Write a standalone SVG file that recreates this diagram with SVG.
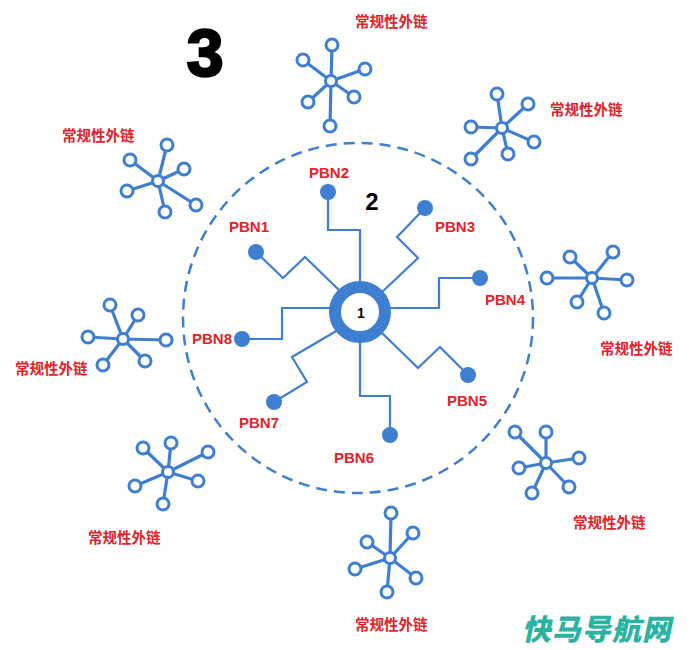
<svg xmlns="http://www.w3.org/2000/svg" width="700" height="650" viewBox="0 0 700 650">
<style>
.bg{fill:#ffffff}
.dash{fill:none;stroke:#3f7fd1;stroke-width:2.5;stroke-dasharray:11 7}
.wire{fill:none;stroke:#3f7fd1;stroke-width:2.2;stroke-linejoin:miter}
.dot{fill:#3f7fd1}
.ring{fill:#ffffff;stroke:#3f7fd1;stroke-width:12}
.spoke{stroke:#3f7fd1;stroke-width:3.2;stroke-linecap:round}
.hub{fill:#ffffff;stroke:#3f7fd1;stroke-width:3}
.lbl{font-family:"Liberation Sans","Noto Sans CJK SC",sans-serif;font-weight:bold;fill:#e3222a;font-size:15px}
.cn{font-family:"Noto Sans CJK SC",sans-serif;font-weight:bold;fill:#e3222a;font-size:14.5px}
.num{font-family:"Liberation Sans",sans-serif;font-weight:bold;fill:#000000}
.wm{font-family:"Noto Sans CJK SC",sans-serif;font-weight:900;fill:#2ab3a3;font-size:29px}
</style>
<rect class="bg" x="0" y="0" width="700" height="650"/>
<text class="num" x="205" y="76" font-size="66" text-anchor="middle" stroke="#000000" stroke-width="2.5">3</text>
<g id="boundary"><circle class="dash" cx="358" cy="318" r="175"/></g>
<text class="num" x="372" y="210" font-size="24" text-anchor="middle">2</text>

<g id="connectors">
<path class="wire" d="M328,192 V230 H360 V285"/>
<path class="wire" d="M425,208 L397,237 L418,258 L380,294"/>
<path class="wire" d="M480,278 H439 V308 H385"/>
<path class="wire" d="M468,375 L440,347 L418,368 L382,333"/>
<path class="wire" d="M390,435 V396 H360 V340"/>
<path class="wire" d="M274,402 L307,382 L292,357 L338,330"/>
<path class="wire" d="M242,339 H282 V308 H335"/>
<path class="wire" d="M256,252 L283,278 L305,257 L340,291"/>
</g>

<g id="core"><circle class="ring" cx="360" cy="312" r="25"/><text class="num" x="361" y="318" font-size="14" text-anchor="middle">1</text></g>

<g id="pbn1"><circle class="dot" cx="256" cy="252" r="8"/><text class="lbl" x="249" y="232" text-anchor="middle">PBN1</text></g>
<g id="pbn2"><circle class="dot" cx="328" cy="192" r="8"/><text class="lbl" x="329" y="178" text-anchor="middle">PBN2</text></g>
<g id="pbn3"><circle class="dot" cx="425" cy="208" r="8"/><text class="lbl" x="455" y="232" text-anchor="middle">PBN3</text></g>
<g id="pbn4"><circle class="dot" cx="480" cy="278" r="8"/><text class="lbl" x="505" y="305" text-anchor="middle">PBN4</text></g>
<g id="pbn5"><circle class="dot" cx="468" cy="375" r="8"/><text class="lbl" x="467" y="406" text-anchor="middle">PBN5</text></g>
<g id="pbn6"><circle class="dot" cx="390" cy="435" r="8"/><text class="lbl" x="354" y="463" text-anchor="middle">PBN6</text></g>
<g id="pbn7"><circle class="dot" cx="274" cy="402" r="8"/><text class="lbl" x="259" y="428" text-anchor="middle">PBN7</text></g>
<g id="pbn8"><circle class="dot" cx="242" cy="339" r="8"/><text class="lbl" x="212" y="344" text-anchor="middle">PBN8</text></g>

<g id="ext-top">
<path class="spoke" d="M331,81 L332,45 M331,81 L303,60 M331,81 L365,69 M331,81 L354,97 M331,81 L308,102 M331,81 L330,126"/>
<circle class="hub" cx="331" cy="81" r="5.5"/>
<circle class="hub" cx="332" cy="45" r="6"/><circle class="hub" cx="303" cy="60" r="6"/><circle class="hub" cx="365" cy="69" r="6"/><circle class="hub" cx="354" cy="97" r="6"/><circle class="hub" cx="308" cy="102" r="6"/><circle class="hub" cx="330" cy="126" r="6"/>
<text class="cn" x="355" y="27">常规性外链</text>
</g>
<g id="ext-upper-right">
<path class="spoke" d="M502,128 L497,94 M502,128 L528,104 M502,128 L471,127 M502,128 L534,142 M502,128 L508,154 M502,128 L471,159"/>
<circle class="hub" cx="502" cy="128" r="5.5"/>
<circle class="hub" cx="497" cy="94" r="6"/><circle class="hub" cx="528" cy="104" r="6"/><circle class="hub" cx="471" cy="127" r="6"/><circle class="hub" cx="534" cy="142" r="6"/><circle class="hub" cx="508" cy="154" r="6"/><circle class="hub" cx="471" cy="159" r="6"/>
<text class="cn" x="550" y="115">常规性外链</text>
</g>
<g id="ext-right">
<path class="spoke" d="M592,278 L570,257 M592,278 L613,252 M592,278 L547,278 M592,278 L627,280 M592,278 L577,302 M592,278 L604,313"/>
<circle class="hub" cx="592" cy="278" r="5.5"/>
<circle class="hub" cx="570" cy="257" r="6"/><circle class="hub" cx="613" cy="252" r="6"/><circle class="hub" cx="547" cy="278" r="6"/><circle class="hub" cx="627" cy="280" r="6"/><circle class="hub" cx="577" cy="302" r="6"/><circle class="hub" cx="604" cy="313" r="6"/>
<text class="cn" x="600" y="354">常规性外链</text>
</g>
<g id="ext-lower-right">
<path class="spoke" d="M546,463 L515,432 M546,463 L546,432 M546,463 L519,468 M546,463 L579,458 M546,463 L532,493 M546,463 L569,487"/>
<circle class="hub" cx="546" cy="463" r="5.5"/>
<circle class="hub" cx="515" cy="432" r="6"/><circle class="hub" cx="546" cy="432" r="6"/><circle class="hub" cx="519" cy="468" r="6"/><circle class="hub" cx="579" cy="458" r="6"/><circle class="hub" cx="532" cy="493" r="6"/><circle class="hub" cx="569" cy="487" r="6"/>
<text class="cn" x="573" y="528">常规性外链</text>
</g>
<g id="ext-bottom">
<path class="spoke" d="M390,558 L391,513 M390,558 L367,542 M390,558 L413,533 M390,558 L355,569 M390,558 L416,578 M390,558 L387,592"/>
<circle class="hub" cx="390" cy="558" r="5.5"/>
<circle class="hub" cx="391" cy="513" r="6"/><circle class="hub" cx="367" cy="542" r="6"/><circle class="hub" cx="413" cy="533" r="6"/><circle class="hub" cx="355" cy="569" r="6"/><circle class="hub" cx="416" cy="578" r="6"/><circle class="hub" cx="387" cy="592" r="6"/>
<text class="cn" x="355" y="630">常规性外链</text>
</g>
<g id="ext-lower-left">
<path class="spoke" d="M168,472 L143,448 M168,472 L171,443 M168,472 L208,452 M168,472 L135,486 M168,472 L198,481 M168,472 L163,504"/>
<circle class="hub" cx="168" cy="472" r="5.5"/>
<circle class="hub" cx="143" cy="448" r="6"/><circle class="hub" cx="171" cy="443" r="6"/><circle class="hub" cx="208" cy="452" r="6"/><circle class="hub" cx="135" cy="486" r="6"/><circle class="hub" cx="198" cy="481" r="6"/><circle class="hub" cx="163" cy="504" r="6"/>
<text class="cn" x="88" y="543">常规性外链</text>
</g>
<g id="ext-left">
<path class="spoke" d="M123,339 L110,305 M123,339 L138,315 M123,339 L88,337 M123,339 L166,340 M123,339 L103,365 M123,339 L145,361"/>
<circle class="hub" cx="123" cy="339" r="5.5"/>
<circle class="hub" cx="110" cy="305" r="6"/><circle class="hub" cx="138" cy="315" r="6"/><circle class="hub" cx="88" cy="337" r="6"/><circle class="hub" cx="166" cy="340" r="6"/><circle class="hub" cx="103" cy="365" r="6"/><circle class="hub" cx="145" cy="361" r="6"/>
<text class="cn" x="15" y="374">常规性外链</text>
</g>
<g id="ext-upper-left">
<path class="spoke" d="M158,181 L167,145 M158,181 L130,160 M158,181 L184,169 M158,181 L127,191 M158,181 L196,205 M158,181 L165,212"/>
<circle class="hub" cx="158" cy="181" r="5.5"/>
<circle class="hub" cx="167" cy="145" r="6"/><circle class="hub" cx="130" cy="160" r="6"/><circle class="hub" cx="184" cy="169" r="6"/><circle class="hub" cx="127" cy="191" r="6"/><circle class="hub" cx="196" cy="205" r="6"/><circle class="hub" cx="165" cy="212" r="6"/>
<text class="cn" x="62" y="141">常规性外链</text>
</g>

<text class="wm" x="522" y="640" letter-spacing="1" transform="skewX(-12)" transform-origin="522 640">快马导航网</text>
</svg>
